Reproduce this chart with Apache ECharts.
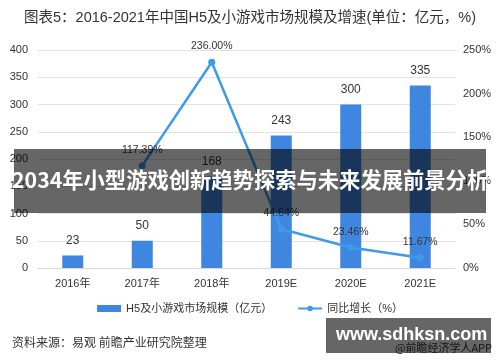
<!DOCTYPE html>
<html><head><meta charset="utf-8">
<script src="https://cdn.jsdelivr.net/npm/echarts@6/dist/echarts.min.js"></script>
<style>html,body{margin:0;padding:0;background:#fff}#c{width:500px;height:362px}</style>
</head><body><div id="c"></div>
<script>
var categories = ['2016年','2017年','2018年','2019E','2020E','2021E'];
var marketSize = [23, 50, 168, 243, 300, 335];
var growth = [null, 117.39, 236.00, 44.64, 23.46, 11.67];
var leftTicks = [0, 50, 100, 150, 200, 250, 300, 350, 400];
var rightTicks = [0, 50, 100, 150, 200, 250];

var chart = echarts.init(document.getElementById('c'));
var font = 'Arial, "Liberation Sans", "Noto Sans CJK SC", sans-serif';
chart.setOption({
  animation: false,
  textStyle: {fontFamily: font},
  title: {
    text: '图表5：2016-2021年中国H5及小游戏市场规模及增速(单位：亿元，%)',
    left: 'center', top: 6,
    textStyle: {fontSize: 14.5, fontWeight: 'normal', color: '#333', fontFamily: font}
  },
  grid: {left: 38, right: 45, top: 50, bottom: 94},
  legend: {
    bottom: 43, left: 'center', itemGap: 25, itemWidth: 24, itemHeight: 7,
    textStyle: {fontSize: 11, color: '#333'},
    data: [
      {name: 'H5及小游戏市场规模（亿元）', icon: 'rect'},
      {name: '同比增长（%）'}
    ]
  },
  xAxis: {
    type: 'category', data: categories,
    axisLine: {lineStyle: {color: '#d9d9d9'}},
    axisTick: {show: false},
    axisLabel: {fontSize: 11, color: '#333', margin: 10}
  },
  yAxis: [
    {type: 'value', min: leftTicks[0], max: leftTicks[leftTicks.length-1], interval: 50,
     axisLine: {show: false}, axisTick: {show: false},
     axisLabel: {fontSize: 11, color: '#333', margin: 10},
     splitLine: {lineStyle: {color: '#e3e3e3'}}},
    {type: 'value', min: rightTicks[0], max: rightTicks[rightTicks.length-1], interval: 50,
     axisLine: {show: false}, axisTick: {show: false},
     axisLabel: {fontSize: 11, color: '#333', formatter: '{value}%', margin: 8},
     splitLine: {show: false}}
  ],
  series: [
    {name: 'H5及小游戏市场规模（亿元）', type: 'bar', data: marketSize, barWidth: 21,
     itemStyle: {color: '#3f86e0'},
     label: {show: true, position: 'top', fontSize: 12, color: '#333', distance: 9}},
    {name: '同比增长（%）', type: 'line', yAxisIndex: 1, data: growth,
     symbol: 'circle', symbolSize: 7,
     lineStyle: {color: '#3d9be9', width: 2.5}, itemStyle: {color: '#3d9be9'},
     label: {show: true, position: 'top', fontSize: 10.5, color: '#333', distance: 7,
       formatter: function(p){return p.value.toFixed(2) + '%';}}}
  ],
  graphic: [
    {type: 'rect', z: 100, shape: {x: 14, y: 149, width: 472, height: 64},
     style: {fill: 'rgba(0,0,0,0.6)'}},
    {type: 'text', z: 101, left: 12, top: 169,
     style: {text: '2034年小型游戏创新趋势探索与未来发展前景分析', fill: '#fff',
       font: 'bold 21.3px "Noto Sans CJK SC", sans-serif'}},
    {type: 'text', z: 50, left: 12, top: 336,
     style: {text: '资料来源：易观 前瞻产业研究院整理', fill: '#333', font: '12px "Noto Sans CJK SC", sans-serif'}},
    {type: 'text', z: 50, left: 395, top: 342,
     style: {text: '@前瞻经济学人APP', fill: '#333', font: '11px "Noto Sans CJK SC", sans-serif'}},
    {type: 'rect', z: 100, shape: {x: 326, y: 318, width: 165, height: 35},
     style: {fill: 'rgba(0,0,0,0.6)'}},
    {type: 'text', z: 101, left: 336, top: 326,
     style: {text: 'www.sdhksn.com', fill: '#fff', font: 'bold 18px "Liberation Sans", Arial, sans-serif'}}
  ]
});
</script></body></html>
